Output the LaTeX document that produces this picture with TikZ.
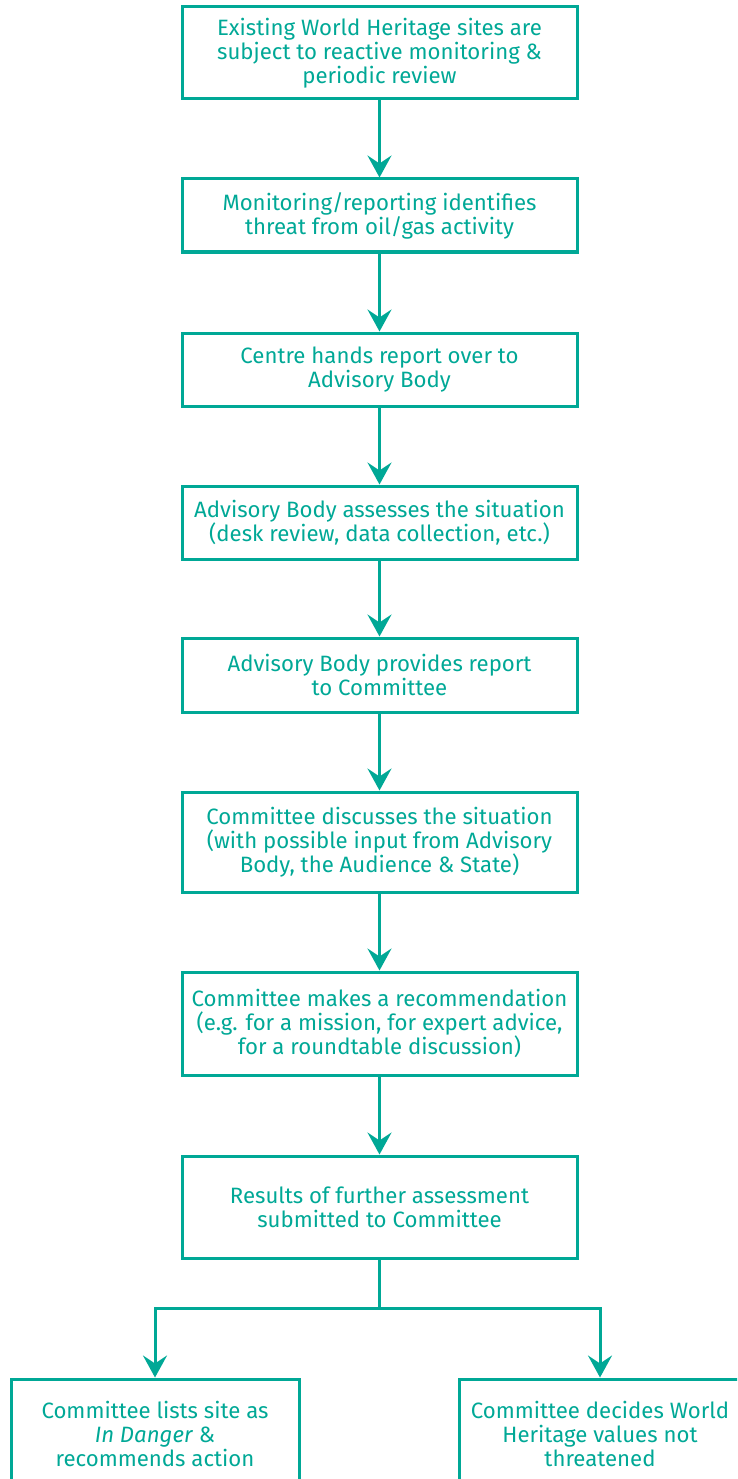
\documentclass[tikz,border=0pt]{standalone}
\usepackage{fontspec}
\setmainfont{Fira Sans}
\usetikzlibrary{arrows.meta}
\definecolor{teal}{RGB}{0,168,150}
\begin{document}
\begin{tikzpicture}[x=1pt,y=-1pt,
  box/.style={draw=teal, line width=3pt, text=teal, align=center,
    minimum width=395pt, inner sep=0pt,
    font=\fontsize{22.2}{24}\selectfont},
  flow/.style={draw=teal, line width=3pt,
    -{Stealth[length=22pt,width=24pt,inset=8pt]}},
  link/.style={draw=teal, line width=3pt}]
\useasboundingbox (0,0) rectangle (737,1479);
\clip (0,0) rectangle (737,1479);

\node[box, minimum height=92pt] (b1) at (379.5,53)
  {Existing World Heritage sites are\\subject to reactive monitoring \&\\periodic review};
\node[box, minimum height=73pt] (b2) at (379.5,215.5)
  {Monitoring/reporting identifies\\threat from oil/gas activity};
\node[box, minimum height=73pt] (b3) at (379.5,369.5)
  {Centre hands report over to\\Advisory Body};
\node[box, minimum height=73pt] (b4) at (379.5,522.5)
  {Advisory Body assesses the situation\\(desk review, data collection, etc.)};
\node[box, minimum height=74pt] (b5) at (379.5,675)
  {Advisory Body provides report\\to Committee};
\node[box, minimum height=100pt] (b6) at (379.5,842)
  {Committee discusses the situation\\(with possible input from Advisory\\Body, the Audience \& State)};
\node[box, minimum height=103pt] (b7) at (379.5,1023.5)
  {Committee makes a recommendation\\(e.g. for a mission, for expert advice,\\for a roundtable discussion)};
\node[box, minimum height=102pt] (b8) at (379.5,1207)
  {Results of further assessment\\submitted to Committee};
\node[box, minimum width=288pt, minimum height=110pt] (bl) at (155,1434)
  {Committee lists site as\\\textit{In Danger} \&\\recommends action};
\node[box, minimum width=282pt, minimum height=110pt] (br) at (600,1434)
  {Committee decides World\\Heritage values not\\threatened};

\draw[flow] (b1) -- (b2);
\draw[flow] (b2) -- (b3);
\draw[flow] (b3) -- (b4);
\draw[flow] (b4) -- (b5);
\draw[flow] (b5) -- (b6);
\draw[flow] (b6) -- (b7);
\draw[flow] (b7) -- (b8);

\coordinate (split) at (379.5,1308);
\draw[link] (b8.south) -- (split);
\draw[flow] (split) -| (bl.north);
\draw[flow] (split) -| (br.north);
\end{tikzpicture}
\end{document}
